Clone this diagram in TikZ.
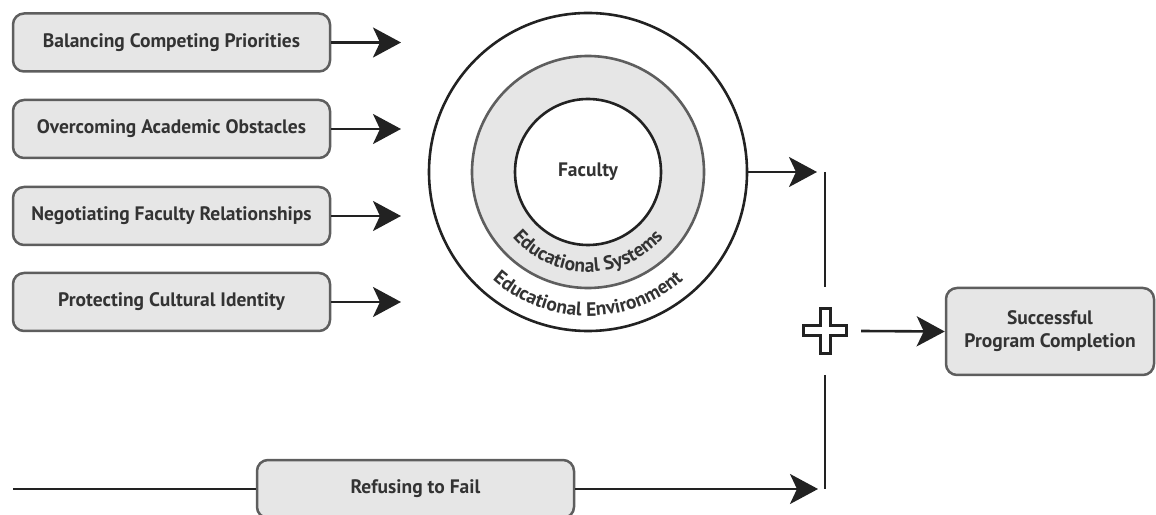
\documentclass[tikz,border=0pt]{standalone}
\usepackage{fontspec}
\setmainfont{PT Sans}
\usetikzlibrary{arrows.meta,decorations.text}
\definecolor{boxfill}{HTML}{E6E6E6}
\definecolor{boxline}{HTML}{5E5E5E}
\definecolor{ink}{HTML}{222222}
\definecolor{txt}{HTML}{333333}
\newcommand{\dfont}{\fontsize{19.5}{23}\selectfont\bfseries}
\begin{document}
\begin{tikzpicture}[x=1pt,y=1pt,
  stepbox/.style={draw=boxline, line width=2.5pt, fill=boxfill, rounded corners=11pt,
    minimum width=317pt, minimum height=58pt, inner sep=0pt, align=center,
    font=\dfont, text=txt},
  conn/.style={draw=ink, line width=2.6pt},
  arr/.style={conn, -{Stealth[length=28pt, width=30pt, inset=7pt]}},
  ring/.style={circle, inner sep=0pt, line width=2.6pt}
]
\useasboundingbox (0,0) rectangle (1156,514);

% left boxes
\node[stepbox] (b1) at (171.5,471.5) {Balancing Competing Priorities};
\node[stepbox] (b2) at (171.5,385) {Overcoming Academic Obstacles};
\node[stepbox] (b3) at (171.5,298) {Negotiating Faculty Relationships};
\node[stepbox] (b4) at (171.5,212) {Protecting Cultural Identity};

\coordinate (t1) at (401,471.5);
\coordinate (t2) at (401,385);
\coordinate (t3) at (401,298);
\coordinate (t4) at (401,212);
\draw[arr] (b1.east) -- (t1);
\draw[arr] (b2.east) -- (t2);
\draw[arr] (b3.east) -- (t3);
\draw[arr] (b4.east) -- (t4);

% circles
\node[ring, draw=ink, fill=white, minimum size=318pt] (env) at (588,342) {};
\node[ring, draw=boxline, fill=boxfill, minimum size=232pt] (sys) at (588,342) {};
\node[ring, draw=ink, fill=white, minimum size=146pt, font=\dfont, text=txt] (fac) at (588,342) {Faculty};

\path[decorate, decoration={text along path, text align=center,
  text={|\dfont\color{txt}|Educational Systems}}]
  (588,342) ++(190:100) arc[start angle=190, end angle=350, radius=100];
\path[decorate, decoration={text along path, text align=center,
  text={|\dfont\color{txt}|Educational Environment}}]
  (588,342) ++(200:144) arc[start angle=200, end angle=340, radius=144];

% junction
\coordinate (jt) at (817,342);
\draw[arr] (env.east) -- (jt);
\coordinate (v1a) at (825,342);
\coordinate (v1b) at (825,227);
\draw[conn] (v1a) -- (v1b);
\coordinate (v2a) at (825,139);
\coordinate (v2b) at (825,25);
\draw[conn] (v2a) -- (v2b);

% plus sign
\coordinate (plus) at (825,183);
\draw[draw=ink, line width=3pt, fill=white, line join=miter]
  (plus) ++(-5,22.5) -- ++(10,0) -- ++(0,-17.5) -- ++(16.5,0) -- ++(0,-10)
  -- ++(-16.5,0) -- ++(0,-17.5) -- ++(-10,0) -- ++(0,17.5) -- ++(-16.5,0)
  -- ++(0,10) -- ++(16.5,0) -- cycle;

% completion
\node[stepbox, minimum width=208pt, minimum height=87pt] (done) at (1050,182.5)
  {Successful\\Program Completion};
\coordinate (ps) at (861,183);
\draw[arr] (ps) -- (done.west);

% refusing to fail
\node[stepbox] (ref) at (415.5,25) {Refusing to Fail};
\coordinate (start) at (13,25);
\coordinate (rt) at (818,25);
\draw[conn] (start) -- (ref.west);
\draw[arr] (ref.east) -- (rt);
\end{tikzpicture}
\end{document}
